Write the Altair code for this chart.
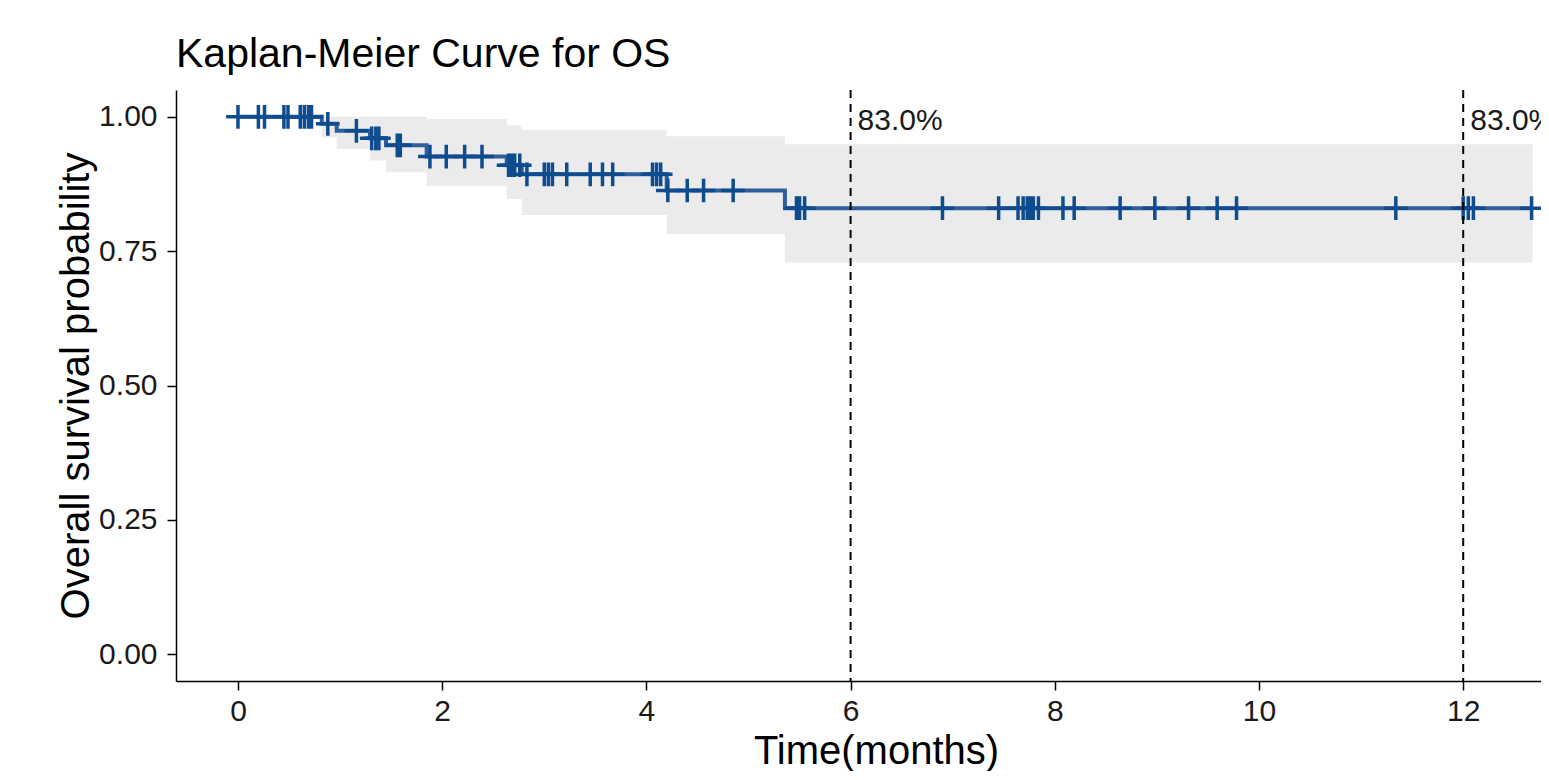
import bisect
import altair as alt
import pandas as pd

# ---------------- data ----------------
title_text = "Kaplan-Meier Curve for OS"
x_title = "Time(months)"
y_title = "Overall survival probability"

# Kaplan-Meier step function (event times and survival after each step)
event_times = [0.0, 0.82, 0.967, 1.293, 1.45, 1.848, 2.632, 2.779, 4.199, 5.357]
surv = [1.0, 0.987, 0.974, 0.960, 0.947, 0.926, 0.910, 0.893, 0.863, 0.830]
upper = [1.0, 1.0, 1.0, 1.0, 1.0, 0.996, 0.984, 0.976, 0.964, 0.949]
lower = [1.0, 0.962, 0.940, 0.919, 0.897, 0.872, 0.847, 0.8175, 0.782, 0.729]
end_time = 12.68

# censoring times (+ marks)
censor_times = [
    0.00, 0.20, 0.26, 0.45, 0.49, 0.61, 0.65, 0.69, 0.72,
    0.88, 1.16, 1.31, 1.35, 1.38, 1.56, 1.59,
    1.88, 2.04, 2.22, 2.39,
    2.65, 2.68, 2.71, 2.76,
    2.83, 3.00, 3.04, 3.08, 3.22, 3.45, 3.57, 3.67, 4.06, 4.10, 4.14,
    4.21, 4.40, 4.56, 4.85,
    5.47, 5.50, 5.55, 6.90, 7.45, 7.64, 7.69, 7.73, 7.76, 7.79, 7.84,
    8.08, 8.19, 8.64, 8.98, 9.31, 9.59, 9.78, 11.34, 12.00, 12.05, 12.10, 12.67,
]

landmark_times = [6, 12]
landmark_labels = ["83.0%", "83.0%"]
landmark_y = [1.0, 1.0]

x_ticks = [0, 2, 4, 6, 8, 10, 12]
y_ticks = [0.0, 0.25, 0.50, 0.75, 1.0]

# ---------------- tables ----------------
steps = pd.DataFrame({
    "t": event_times + [end_time],
    "s": surv + [surv[-1]],
    "lo": lower + [lower[-1]],
    "hi": upper + [upper[-1]],
})


def s_at(t):
    i = bisect.bisect_right(event_times, t) - 1
    return surv[max(i, 0)]


cens = pd.DataFrame({"t": censor_times, "s": [s_at(t) for t in censor_times]})
marks = pd.DataFrame({"t": landmark_times, "s": landmark_y, "lab": landmark_labels})

FONT = "Liberation Sans"

x_enc = alt.X(
    "t:Q",
    scale=alt.Scale(domain=[-0.607, 12.762], nice=False, zero=False),
    axis=alt.Axis(
        values=x_ticks, title=x_title, labelPadding=6,
        titleX=700, titleY=82, titleAlign="center", titleBaseline="alphabetic",
    ),
)
y_scale = alt.Scale(domain=[-0.05, 1.05], nice=False, zero=False)
y_axis = alt.Axis(
    values=y_ticks, format=".2f", title=y_title, labelPadding=10,
    titleX=-88, titleY=295.5, titleAngle=270, titleAlign="center",
    titleBaseline="alphabetic",
)
y_enc = alt.Y("s:Q", scale=y_scale, axis=y_axis)

band = alt.Chart(steps).mark_area(
    interpolate="step-after", color="#EBEBEB", opacity=1
).encode(
    x=x_enc,
    y=alt.Y("lo:Q", scale=y_scale, axis=y_axis),
    y2="hi:Q",
)

line = alt.Chart(steps).mark_line(
    interpolate="step-after", color="#2F5F9A", strokeWidth=4
).encode(x=x_enc, y=y_enc)

points = alt.Chart(cens).mark_point(
    shape="M-1,0L1,0M0,-1L0,1", filled=False, size=560,
    strokeWidth=3.5, color="#0E4C8F", opacity=1,
).encode(x=x_enc, y=y_enc)

rules = alt.Chart(marks).mark_rule(
    color="black", strokeDash=[8, 6], strokeWidth=2
).encode(x=x_enc)

texts = alt.Chart(marks).mark_text(
    align="left", baseline="alphabetic", dx=7, dy=13,
    fontSize=30, font=FONT, color="#1a1a1a",
).encode(x=x_enc, y=y_enc, text="lab:N")

chart = alt.layer(band, line, points, rules, texts).properties(
    width=1365,
    height=591,
    autosize=alt.AutoSizeParams(type="none"),
    padding={"left": 168, "top": 82, "right": 0, "bottom": 90},
    title=alt.TitleParams(
        text=title_text, anchor="start", frame="group", fontSize=41,
        font=FONT, fontWeight="normal", color="black",
        baseline="alphabetic", offset=28, dy=47,
    ),
).configure_view(stroke=None).configure_axis(
    grid=False,
    domainColor="black", domainWidth=1.5,
    tickColor="black", tickWidth=1.5, tickSize=9,
    labelFont=FONT, labelFontSize=30, labelColor="#1a1a1a",
    titleFont=FONT, titleFontSize=40, titleColor="black", titleFontWeight="normal",
)

chart.save("out.html", embed_options={"renderer": "svg", "actions": False})
